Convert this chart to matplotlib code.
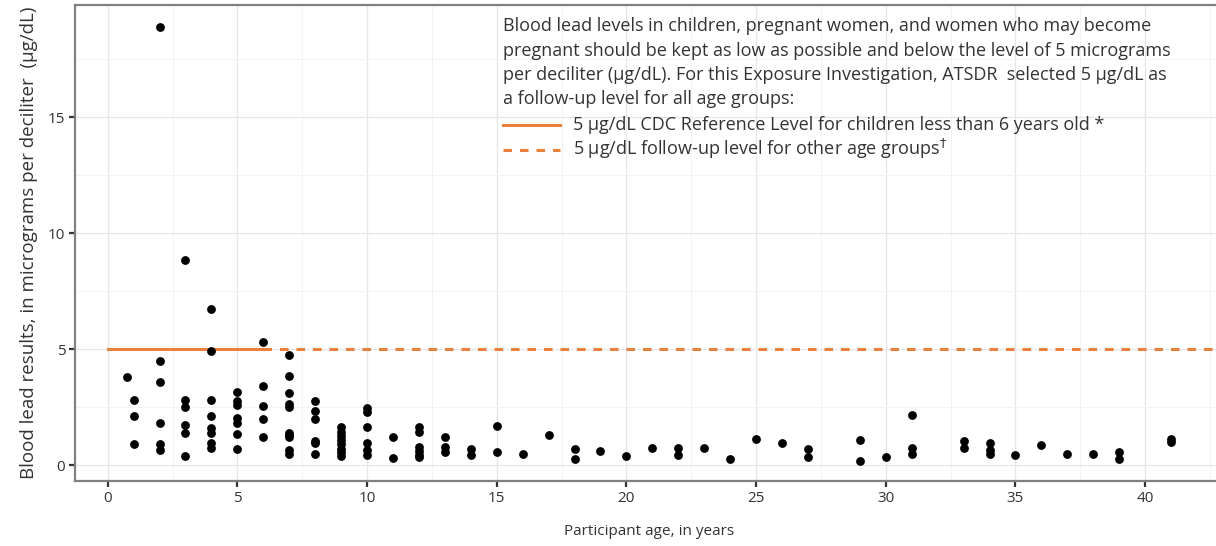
import matplotlib
matplotlib.use('Agg')
import matplotlib.pyplot as plt
from matplotlib.lines import Line2D
from matplotlib.ticker import MultipleLocator

plt.rcParams['font.family'] = ['Open Sans', 'DejaVu Sans']

# Participant ages and blood lead results (ug/dL)
ages = [0.75,
        1, 1, 1,
        2, 2, 2, 2, 2, 2,
        3, 3, 3, 3, 3, 3,
        4, 4, 4, 4, 4, 4, 4, 4,
        5, 5, 5, 5, 5, 5, 5,
        6, 6, 6, 6, 6,
        7, 7, 7, 7, 7, 7, 7, 7, 7, 7,
        8, 8, 8, 8, 8, 8,
        9, 9, 9, 9, 9, 9, 9, 9,
        10, 10, 10, 10, 10, 10,
        11, 11,
        12, 12, 12, 12, 12, 12,
        13, 13, 13,
        14, 14,
        15, 15,
        16, 17, 18, 18, 19, 20, 21, 22, 22, 23, 24, 25, 26, 27, 27,
        29, 29, 30,
        31, 31, 31,
        33, 33,
        34, 34, 34,
        35, 36, 37, 38, 39, 39, 41, 41]
levels = [3.8,
          2.8, 2.1, 0.9,
          18.9, 4.5, 3.6, 1.8, 0.9, 0.65,
          8.85, 2.8, 2.5, 1.75, 1.4, 0.4,
          6.75, 4.9, 2.8, 2.1, 1.6, 1.4, 0.95, 0.75,
          3.15, 2.75, 2.6, 2.05, 1.8, 1.35, 0.7,
          5.3, 3.4, 2.55, 2.0, 1.2,
          4.75, 3.85, 3.1, 2.65, 2.5, 1.4, 1.3, 1.2, 0.65, 0.5,
          2.75, 2.35, 2.0, 1.05, 0.95, 0.5,
          1.65, 1.45, 1.25, 1.1, 0.9, 0.7, 0.55, 0.4,
          2.45, 2.3, 1.65, 0.95, 0.65, 0.45,
          1.2, 0.3,
          1.65, 1.45, 0.8, 0.6, 0.45, 0.35,
          1.2, 0.8, 0.55,
          0.7, 0.45,
          1.7, 0.55,
          0.5, 1.3, 0.7, 0.25, 0.6, 0.4, 0.75, 0.75, 0.45, 0.75, 0.25, 1.15, 0.95, 0.7, 0.35,
          1.1, 0.2, 0.35,
          2.15, 0.75, 0.5,
          1.05, 0.75,
          0.95, 0.65, 0.5,
          0.45, 0.85, 0.5, 0.5, 0.55, 0.25, 1.15, 1.0]

ref_level = 5
child_age_limit = 6

orange = '#E8803E'
txt = '#333333'
dash = (0, (2.8, 2.6))

W, H = 1216, 546
fig = plt.figure(figsize=(W / 100, H / 100), dpi=100)
ax = fig.add_axes([75 / W, 65 / H, 1148 / W, 476 / H])

ax.set_xlim(-1.26, 43.0)
ax.set_ylim(-0.68, 19.83)

# grid like theme_bw
ax.xaxis.set_major_locator(MultipleLocator(5))
ax.yaxis.set_major_locator(MultipleLocator(5))
ax.xaxis.set_minor_locator(MultipleLocator(2.5))
ax.yaxis.set_minor_locator(MultipleLocator(2.5))
ax.grid(which='major', color='#E6E6E6', linewidth=0.9)
ax.grid(which='minor', color='#F3F3F3', linewidth=0.7)
ax.set_axisbelow(True)
for sp in ax.spines.values():
    sp.set_color('#808080')
    sp.set_linewidth(1.6)

ax.tick_params(which='major', length=4, width=1.6, color='#333333',
               labelsize=11, labelcolor=txt, pad=3)
ax.tick_params(which='minor', length=0)

# reference lines
ax.plot([0, child_age_limit], [ref_level, ref_level], color=orange, lw=2.2)
ax.plot([child_age_limit, 43.0], [ref_level, ref_level], color=orange, lw=2.2,
        linestyle=dash)

ax.scatter(ages, levels, s=40, color='black', zorder=3, linewidths=0)

ax.set_xlabel('Participant age, in years', fontsize=11, color=txt, labelpad=13)
ax.set_ylabel('Blood lead results, in micrograms per deciliter  (µg/dL)',
              fontsize=13.5, color=txt, labelpad=7)

# annotation block
para = ['Blood lead levels in children, pregnant women, and women who may become',
        'pregnant should be kept as low as possible and below the level of 5 micrograms',
        'per deciliter (µg/dL). For this Exposure Investigation, ATSDR  selected 5 µg/dL as',
        'a follow-up level for all age groups:']
for i, line in enumerate(para):
    fig.text(503 / W, 1 - (31 + 24.5 * i) / H, line, fontsize=13, color=txt,
             va='baseline', ha='left')

fig.add_artist(Line2D([503 / W, 560 / W], [1 - 125 / H, 1 - 125 / H],
                      color=orange, lw=2.2))
fig.add_artist(Line2D([503 / W, 560 / W], [1 - 149.5 / H, 1 - 149.5 / H],
                      color=orange, lw=2.2, linestyle=dash))
fig.text(573 / W, 1 - 130.5 / H,
         '5 µg/dL CDC Reference Level for children less than 6 years old *',
         fontsize=13, color=txt, va='baseline', ha='left')
fig.text(573 / W, 1 - 155 / H,
         '5 µg/dL follow-up level for other age groups$^{\\dagger}$',
         fontsize=13, color=txt, va='baseline', ha='left')

fig.savefig('out.png', dpi=100)
